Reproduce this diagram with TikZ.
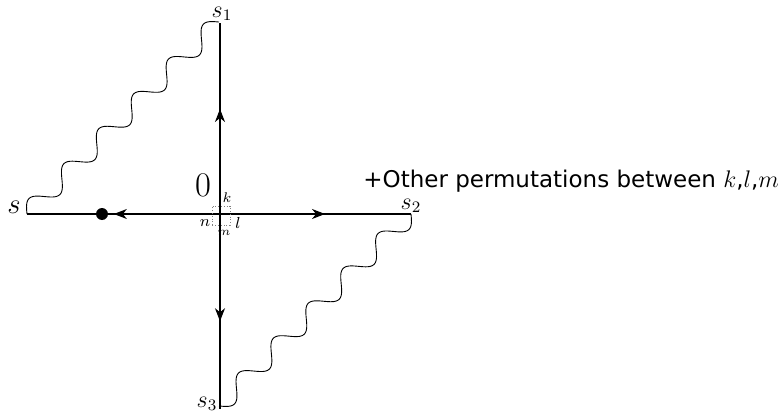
\documentclass[tikz,border=0pt]{standalone}
\usepackage{fontspec}
\newfontfamily\textsans{DejaVu Sans}
\usetikzlibrary{arrows.meta,decorations.markings}

\begin{document}
\begin{tikzpicture}[x=0.5pt,y=0.5pt,
    prop/.style={line width=0.6pt,postaction={decorate},
      decoration={markings,mark=at position 0.55 with {\arrow{Stealth[length=6.5pt,width=5pt,inset=2pt]}}}},
    photon/.style={line width=0.45pt},
    every node/.style={inner sep=1pt}]
    \useasboundingbox (0,0) rectangle (778,419);
    % vertices of the diagram
    \coordinate (o) at (220,205);
    \coordinate (vs) at (27,205);
    \coordinate (vs2) at (411,205);
    \coordinate (vs1) at (220,396);
    \coordinate (vs3) at (220,10);
    % propagators out of the vertex
    \draw[prop] (o) -- (vs1);
    \draw[prop] (o) -- (vs3);
    \draw[prop] (o) -- (vs);
    \draw[prop] (o) -- (vs2);
    \fill (102,205) circle (6);
    % wavy lines, 5.5 periods each
    \foreach \v/\r in {vs/45,vs2/225}
      \draw[photon,shift={(\v)},rotate=\r] plot[domain=0:271.5,samples=220,smooth] (\x,{9.5*sin(\x/49.36*360)});
    % vertex box
    \draw[densely dotted,line width=0.4pt,gray] (212,194) rectangle (230,213);
    % labels
    \node[font=\Large] (ls) at (14,212) {$s$};
    \node[font=\large] (ls1) at (222,405) {$s_1$};
    \node[font=\large] (ls2) at (411,213) {$s_2$};
    \node[font=\large] (ls3) at (207,15) {$s_3$};
    \node[font=\fontsize{16}{18}\selectfont] (lo) at (203,234) {$0$};
    \node[font=\fontsize{7}{8}\selectfont] (lk) at (227,221) {$k$};
    \node[font=\footnotesize] (ln) at (205,196) {$n$};
    \node[font=\footnotesize] (ll) at (238,196) {$l$};
    \node[font=\fontsize{6.5}{7}\selectfont] (lm) at (224,186) {$m$};
    \node[anchor=west,inner sep=0pt,font=\textsans\fontsize{11.5}{13}\selectfont] (perm) at (363,238)
      {+Other permutations between $k$,$l$,$m$};
\end{tikzpicture}
\end{document}
